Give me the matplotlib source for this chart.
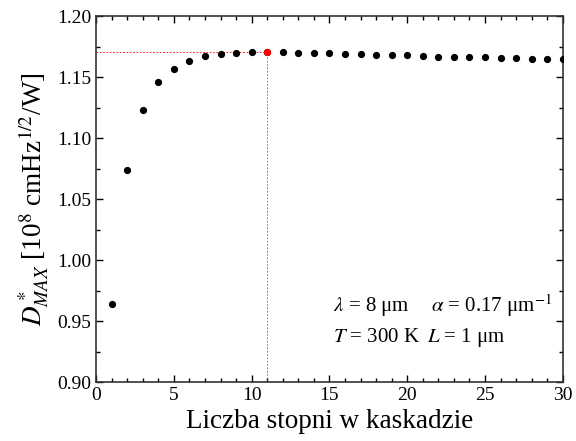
import matplotlib
matplotlib.use('Agg')
import matplotlib.pyplot as plt
from matplotlib.ticker import MultipleLocator

plt.rcParams['font.family'] = ['Liberation Serif', 'DejaVu Serif']
plt.rcParams['mathtext.fontset'] = 'stix'

# number of stages in the cascade and max detectivity (1e8 cmHz^1/2/W)
stages = list(range(1, 31))
d_max = [0.964, 1.074, 1.123, 1.146, 1.157, 1.1635, 1.167, 1.169, 1.1698, 1.1703,
         1.1707, 1.1703, 1.1700, 1.1700, 1.1697, 1.1692, 1.1687, 1.1684, 1.1681, 1.1679,
         1.1673, 1.1668, 1.1668, 1.1662, 1.1662, 1.1657, 1.1657, 1.1652, 1.1652, 1.1649]
best = 11

fig = plt.figure(figsize=(5.76, 4.41), dpi=100)
ax = fig.add_axes([0.1667, 0.1327, 0.8105, 0.831])

ax.plot(stages, d_max, 'o', color='black', markersize=4.2, zorder=3)
i_best = stages.index(best)
ax.plot(best, d_max[i_best], 'o', color='red', markersize=4.2, zorder=4)
ax.plot([0, best], [d_max[i_best]] * 2, ls=(0, (2, 2)), color='red', lw=0.6)
ax.plot([best, best], [0.90, d_max[i_best]], ls=(0, (2, 2)), color='#c04040', lw=0.6)

ax.set_xlim(0, 30)
ax.set_ylim(0.90, 1.20)
ax.xaxis.set_major_locator(MultipleLocator(5))
ax.xaxis.set_minor_locator(MultipleLocator(1))
ax.yaxis.set_major_locator(MultipleLocator(0.05))
ax.yaxis.set_minor_locator(MultipleLocator(0.025))
ax.yaxis.set_major_formatter(matplotlib.ticker.FormatStrFormatter('%.2f'))
ax.tick_params(which='both', direction='in', top=True, right=True, labelsize=14, width=1.0)
ax.tick_params(which='major', length=5)
ax.tick_params(which='minor', length=3)
for s in ax.spines.values():
    s.set_linewidth(1.2)
    s.set_color('#333333')

ax.set_xlabel('Liczba stopni w kaskadzie', fontsize=19.5, labelpad=3)
ax.set_ylabel(r'$D^*_{MAX}$ [10$^8$ cmHz$^{1/2}$/W]', fontsize=19.5, labelpad=4)

ax.text(15.2, 0.9625, r'$\lambda$ = 8 μm', fontsize=15, va='center')
ax.text(21.5, 0.9625, r'$\alpha$ = 0.17 μm$^{-1}$', fontsize=15, va='center')
ax.text(15.2, 0.937, r'$T$ = 300 K', fontsize=15, va='center')
ax.text(21.3, 0.937, r'$L$ = 1 μm', fontsize=15, va='center')

fig.savefig('out.png', dpi=100)
